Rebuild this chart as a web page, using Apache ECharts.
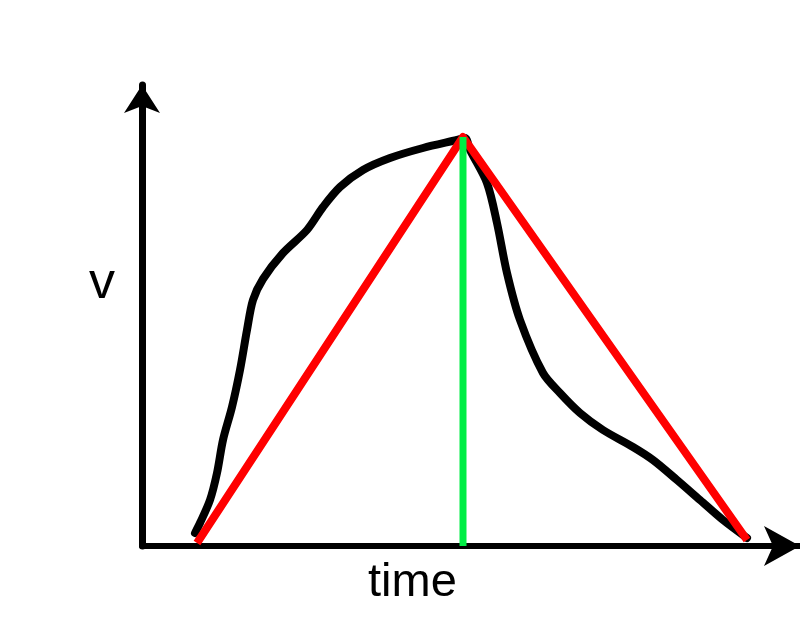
<!DOCTYPE html>
<html>
<head>
<meta charset="utf-8">
<script src="https://cdn.jsdelivr.net/npm/echarts@6/dist/echarts.min.js"></script>
<style>html,body{margin:0;padding:0;background:#fff}#c{width:800px;height:640px}</style>
</head>
<body>
<div id="c"></div>
<script>
// Hand-drawn velocity curve (time, v)
const curveTime = [53,58,68,75,81,90,98,105,111,121,141,165,181,198,221,248,281,315,323,328,345,355,365,378,401,418,438,461,491,511,535,558,581,605];
const curveV    = [13,23,46,73,106,139,176,216,246,267,293,316,339,359,376,388,398,406,408,396,363,323,273,226,173,153,133,116,99,86,66,46,26,8];
// Red triangle approximation
const triTime = [55,321,605];
const triV    = [3,409,6];
// Green vertical at the peak
const peakTime = [321,321];
const peakV    = [0,409];
const xName = 'time';
const yName = 'v';

const zip = (a,b) => a.map((v,i)=>[v,b[i]]);

const chart = echarts.init(document.getElementById('c'), null, {renderer:'canvas'});
chart.setOption({
  animation:false,
  backgroundColor:'#fff',
  grid:{left:142, right:0, top:85, bottom:94},
  xAxis:{
    type:'value', min:0, max:658,
    axisLine:{show:true, onZero:false, symbol:['none','arrow'], symbolSize:[30,36], lineStyle:{color:'#000', width:6}},
    axisTick:{show:false}, axisLabel:{show:false}, splitLine:{show:false}
  },
  yAxis:{
    type:'value', min:0, max:461,
    axisLine:{show:true, onZero:false, symbol:['none','arrow'], symbolSize:[27,28], lineStyle:{color:'#000', width:7}},
    axisTick:{show:false}, axisLabel:{show:false}, splitLine:{show:false}
  },
  graphic:[
    {type:'text', left:368, top:560, style:{text:xName, font:'47px "Liberation Sans"', fill:'#000'}},
    {type:'text', left:89, top:258, style:{text:yName, font:'52px "Liberation Sans"', fill:'#000'}}
  ],
  series:[
    {type:'line', data:zip(curveTime,curveV), smooth:0.3, showSymbol:false, silent:true,
     lineStyle:{color:'#000', width:8, cap:'round', join:'round'}},
    {type:'line', data:zip(triTime,triV), showSymbol:false, silent:true,
     lineStyle:{color:'#ff0000', width:8, join:'round'}},
    {type:'line', data:zip(peakTime,peakV), showSymbol:false, silent:true,
     lineStyle:{color:'#00ee44', width:7}}
  ]
});
</script>
</body>
</html>
